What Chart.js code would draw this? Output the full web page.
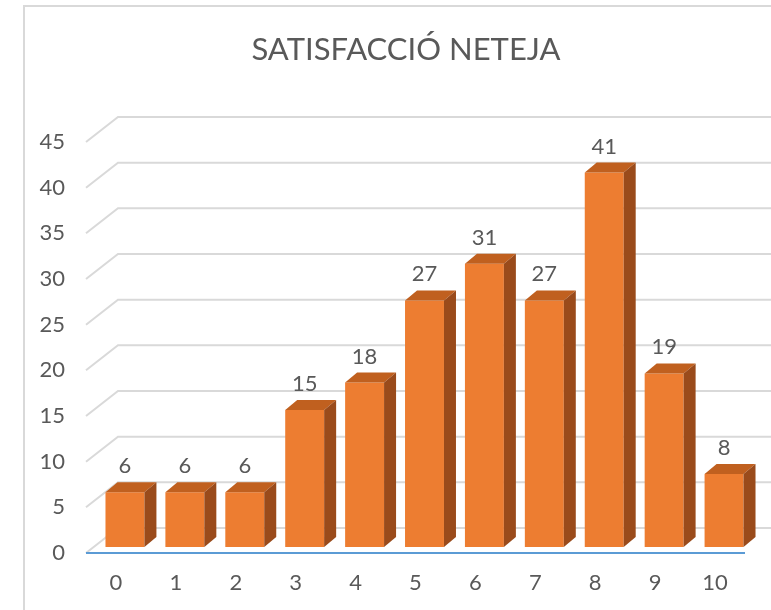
<!DOCTYPE html>
<html>
<head>
<meta charset="utf-8">
<script src="https://cdn.jsdelivr.net/npm/chart.js@4/dist/chart.umd.min.js"></script>
<style>
  html, body { margin: 0; padding: 0; background: #fff; }
  #wrap { width: 771px; height: 610px; }
</style>
</head>
<body>
<div id="wrap"><canvas id="cleanChart" width="771" height="610"></canvas></div>
<script>
// scores 0..10 and how many answers each got
const scores = ['0', '1', '2', '3', '4', '5', '6', '7', '8', '9', '10'];
const answers = [6, 6, 6, 15, 18, 27, 31, 27, 41, 19, 8];
const yTicks = [0, 5, 10, 15, 20, 25, 30, 35, 40, 45];
const chartTitle = 'SATISFACCIÓ NETEJA';

const FONT = "Lato, 'Open Sans', sans-serif";
const TEXT = '#595959';
const GRID = '#d9d9d9';

// fake 3D depth
const DEPTH_X = 12, DEPTH_Y = 10;      // bar depth
const WALL_X = 32, WALL_Y = 25;        // back wall offset
const SHIFT_X = 9, SHIFT_Y = -6;       // bars sit a bit behind the front edge

const threeD = {
    id: 'threeD',
    beforeDraw(chart) {
        const ctx = chart.ctx;
        // outer frame
        ctx.save();
        ctx.strokeStyle = GRID;
        ctx.lineWidth = 2;
        ctx.beginPath();
        ctx.moveTo(24, 610);
        ctx.lineTo(24, 6);
        ctx.lineTo(chart.width, 6);
        ctx.stroke();
        // title, centred a little right of the canvas middle like the original
        ctx.fillStyle = TEXT;
        ctx.font = '31px ' + FONT;
        ctx.textAlign = 'center';
        ctx.textBaseline = 'middle';
        ctx.fillText(chartTitle, 406, 50);
        ctx.restore();
    },
    beforeDatasetsDraw(chart) {
        const ctx = chart.ctx;
        const y = chart.scales.y;
        const area = chart.chartArea;
        // back wall gridlines with the slanted floor edge
        ctx.save();
        ctx.strokeStyle = GRID;
        ctx.lineWidth = 2;
        yTicks.forEach(function (v) {
            const py = y.getPixelForValue(v);
            ctx.beginPath();
            ctx.moveTo(area.left, py);
            ctx.lineTo(area.left + WALL_X, py - WALL_Y);
            ctx.lineTo(chart.width, py - WALL_Y);
            ctx.stroke();
        });
        ctx.restore();
        // push bars back
        ctx.save();
        ctx.translate(SHIFT_X, SHIFT_Y);
    },
    afterDatasetsDraw(chart) {
        const ctx = chart.ctx;
        const meta = chart.getDatasetMeta(0);
        meta.data.forEach(function (bar, i) {
            const l = bar.x - bar.width / 2;
            const r = bar.x + bar.width / 2;
            const top = bar.y;
            const base = bar.base;
            // top face
            ctx.fillStyle = '#c0601f';
            ctx.beginPath();
            ctx.moveTo(l, top);
            ctx.lineTo(l + DEPTH_X, top - DEPTH_Y);
            ctx.lineTo(r + DEPTH_X, top - DEPTH_Y);
            ctx.lineTo(r, top);
            ctx.closePath();
            ctx.fill();
            // side face
            ctx.fillStyle = '#9a4b1b';
            ctx.beginPath();
            ctx.moveTo(r, top);
            ctx.lineTo(r + DEPTH_X, top - DEPTH_Y);
            ctx.lineTo(r + DEPTH_X, base - DEPTH_Y);
            ctx.lineTo(r, base);
            ctx.closePath();
            ctx.fill();
            // value label
            ctx.fillStyle = TEXT;
            ctx.font = '22px ' + FONT;
            ctx.textAlign = 'center';
            ctx.textBaseline = 'alphabetic';
            ctx.fillText(answers[i], bar.x, top - DEPTH_Y - 9);
        });
        ctx.restore();
    },
    afterDraw(chart) {
        const ctx = chart.ctx;
        const y = chart.scales.y;
        const area = chart.chartArea;
        // blue front floor edge
        ctx.save();
        ctx.strokeStyle = '#5b9bd5';
        ctx.lineWidth = 2;
        const py = y.getPixelForValue(0);
        ctx.beginPath();
        ctx.moveTo(area.left, py);
        ctx.lineTo(area.right, py);
        ctx.stroke();
        ctx.restore();
    }
};

const ctx = document.getElementById('cleanChart').getContext('2d');

new Chart(ctx, {
    type: 'bar',
    data: {
        labels: scores,
        datasets: [{
            label: 'Satisfacció neteja',
            data: answers,
            backgroundColor: '#ed7d31',
            borderWidth: 0,
            barPercentage: 0.65,
            categoryPercentage: 1.0
        }]
    },
    options: {
        responsive: false,
        animation: false,
        layout: {
            padding: { left: 26, right: 26, top: 142, bottom: 0 }
        },
        scales: {
            x: {
                afterFit: function (scale) { scale.height = 57; },
                grid: { display: false, drawTicks: false },
                border: { display: false },
                ticks: {
                    color: TEXT,
                    padding: 17,
                    font: { size: 22, family: FONT }
                }
            },
            y: {
                min: 0,
                max: 45,
                afterFit: function (scale) { scale.width = 60; },
                grid: { display: false, drawTicks: false },
                border: { display: false },
                ticks: {
                    stepSize: 5,
                    color: TEXT,
                    padding: 21,
                    font: { size: 22, family: FONT }
                }
            }
        },
        plugins: {
            legend: { display: false },
            tooltip: { enabled: false },
            title: { display: false }
        }
    },
    plugins: [threeD]
});
</script>
</body>
</html>
